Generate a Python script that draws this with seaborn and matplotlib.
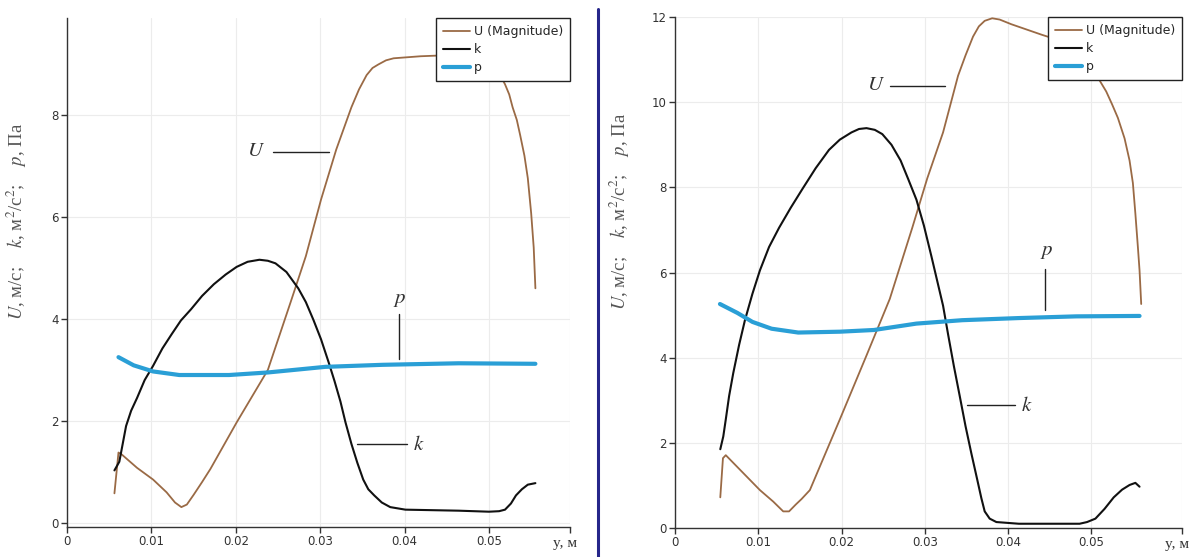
import matplotlib
matplotlib.use("Agg")
import matplotlib.pyplot as plt
from matplotlib.lines import Line2D
import seaborn as sns
import pandas as pd

# ---------------- data: left panel ----------------
uL_x = [0.00562, 0.0061, 0.0065, 0.0083, 0.0102, 0.0118, 0.0128, 0.01355, 0.0142, 0.0150,
        0.0160, 0.0170, 0.0201, 0.0238, 0.0265, 0.0283, 0.0301, 0.0319, 0.0337, 0.0346,
        0.0355, 0.0362, 0.0369, 0.0378, 0.0387, 0.0419, 0.0450, 0.0480, 0.0505, 0.0512,
        0.0519, 0.0524, 0.0528, 0.0533, 0.0537, 0.0542, 0.0546, 0.0550, 0.0553, 0.0555]
uL_y = [0.58, 1.38, 1.34, 1.08, 0.85, 0.60, 0.40, 0.31, 0.36, 0.55,
        0.80, 1.06, 1.97, 3.00, 4.33, 5.23, 6.34, 7.32, 8.15, 8.50,
        8.78, 8.92, 8.99, 9.07, 9.11, 9.15, 9.17, 9.12, 8.95, 8.82,
        8.60, 8.40, 8.15, 7.90, 7.60, 7.20, 6.76, 6.07, 5.40, 4.60]

kL_x = [0.00562, 0.0062, 0.0066, 0.0070, 0.0076, 0.0083, 0.0092, 0.0102, 0.0113, 0.0124,
        0.0135, 0.0147, 0.0160, 0.0174, 0.0188, 0.0201, 0.0214, 0.0228, 0.0238, 0.0247,
        0.0260, 0.0274, 0.0283, 0.0292, 0.0301, 0.0310, 0.0317, 0.0324, 0.0330, 0.0337,
        0.0344, 0.0351, 0.0357, 0.0364, 0.0373, 0.0383, 0.0401, 0.0464, 0.0500, 0.0512,
        0.0519, 0.0526, 0.0532, 0.0539, 0.0546, 0.0555]
kL_y = [1.03, 1.20, 1.55, 1.90, 2.20, 2.45, 2.80, 3.08, 3.42, 3.70,
        3.97, 4.19, 4.45, 4.68, 4.87, 5.02, 5.12, 5.16, 5.14, 5.09,
        4.92, 4.60, 4.33, 3.98, 3.60, 3.15, 2.78, 2.38, 1.97, 1.55,
        1.18, 0.85, 0.66, 0.54, 0.40, 0.31, 0.26, 0.24, 0.22, 0.23,
        0.26, 0.38, 0.54, 0.66, 0.75, 0.78]

pL_x = [0.0061, 0.0079, 0.0102, 0.0133, 0.0192, 0.0238, 0.0306, 0.0374, 0.0464, 0.0555]
pL_y = [3.25, 3.09, 2.97, 2.90, 2.90, 2.95, 3.06, 3.10, 3.13, 3.12]

# ---------------- data: right panel ----------------
uR_x = [0.00544, 0.00576, 0.0061, 0.0102, 0.0118, 0.0130, 0.0137, 0.0145, 0.0152, 0.0162,
        0.0198, 0.0230, 0.0258, 0.0285, 0.0303, 0.0322, 0.0340, 0.0349, 0.0358, 0.0365,
        0.0372, 0.0381, 0.0390, 0.0404, 0.0441, 0.0470, 0.0495, 0.0518, 0.0525, 0.0532,
        0.0540, 0.0546, 0.0550, 0.0553, 0.0556, 0.0558, 0.0560]
uR_y = [0.72, 1.64, 1.71, 0.89, 0.62, 0.39, 0.39, 0.55, 0.68, 0.89,
        2.55, 4.05, 5.38, 7.05, 8.21, 9.29, 10.62, 11.10, 11.54, 11.78,
        11.91, 11.97, 11.94, 11.83, 11.58, 11.40, 11.00, 10.25, 9.95, 9.63,
        9.15, 8.63, 8.10, 7.38, 6.60, 6.05, 5.26]

kR_x = [0.00544, 0.0058, 0.0061, 0.0065, 0.0070, 0.0077, 0.0084, 0.0093, 0.0102, 0.0113,
        0.0125, 0.0139, 0.0153, 0.0169, 0.0185, 0.0198, 0.0212, 0.0221, 0.0230, 0.0240,
        0.0249, 0.0260, 0.0271, 0.0280, 0.0290, 0.0299, 0.0308, 0.0315, 0.0322, 0.0328,
        0.0335, 0.0342, 0.0349, 0.0356, 0.0363, 0.0368, 0.0372, 0.0378, 0.0386, 0.0413,
        0.0486, 0.0495, 0.0505, 0.0516, 0.0527, 0.0537, 0.0546, 0.0553, 0.0558]
kR_y = [1.85, 2.15, 2.55, 3.10, 3.64, 4.30, 4.88, 5.50, 6.05, 6.60,
        7.05, 7.52, 7.96, 8.45, 8.88, 9.12, 9.29, 9.37, 9.39, 9.35,
        9.25, 9.00, 8.63, 8.20, 7.71, 7.10, 6.38, 5.80, 5.22, 4.55,
        3.80, 3.10, 2.39, 1.75, 1.14, 0.70, 0.39, 0.22, 0.14, 0.10,
        0.10, 0.14, 0.22, 0.45, 0.72, 0.90, 1.01, 1.06, 0.97]

pR_x = [0.0054, 0.0075, 0.0093, 0.0116, 0.0148, 0.0198, 0.0239, 0.0290, 0.0345, 0.0413, 0.0482, 0.0558]
pR_y = [5.26, 5.05, 4.84, 4.68, 4.59, 4.61, 4.65, 4.80, 4.88, 4.93, 4.97, 4.98]

x_ticks = [0, 0.01, 0.02, 0.03, 0.04, 0.05]
x_tick_labels = ["0", "0.01", "0.02", "0.03", "0.04", "0.05"]
yL_ticks = [0, 2, 4, 6, 8]
yR_ticks = [0, 2, 4, 6, 8, 10, 12]
legend_labels = ["U (Magnitude)", "k", "p"]

# annotation labels: (text, text_x, text_y, leader x0, y0, x1, y1)
annL = [("U", 0.0224, 7.32, 0.0244, 7.28, 0.0311, 7.28),
        ("p", 0.0394, 4.40, 0.0393, 4.09, 0.0393, 3.22),
        ("k", 0.0417, 1.55, 0.0344, 1.55, 0.0403, 1.55)]
annR = [("U", 0.0242, 10.42, 0.0258, 10.37, 0.0324, 10.37),
        ("p", 0.0447, 6.50, 0.0445, 6.09, 0.0445, 5.13),
        ("k", 0.0422, 2.89, 0.0351, 2.89, 0.0409, 2.89)]

C_U = "#9a6a45"
C_K = "#111111"
C_P = "#2a9fd6"

sns.set_theme(style="white")
plt.rcParams["font.family"] = ["DejaVu Sans"]
plt.rcParams["mathtext.fontset"] = "stix"

W, H = 1192, 557
fig = plt.figure(figsize=(W / 100, H / 100), dpi=100)


def make_axes(l, r, t, b):
    return fig.add_axes([l / W, (H - b) / H, (r - l) / W, (b - t) / H])


axL = make_axes(67, 570, 18, 527)
axR = make_axes(675, 1182, 17, 528)


def draw(ax, ux, uy, kx, ky, px, py, xmax, ylim, yticks, ann, lab_x, lab_y):
    sns.lineplot(data=pd.DataFrame({"x": ux, "y": uy}), x="x", y="y", ax=ax,
                 color=C_U, lw=1.3, sort=False, estimator=None)
    sns.lineplot(data=pd.DataFrame({"x": kx, "y": ky}), x="x", y="y", ax=ax,
                 color=C_K, lw=1.5, sort=False, estimator=None)
    sns.lineplot(data=pd.DataFrame({"x": px, "y": py}), x="x", y="y", ax=ax,
                 color=C_P, lw=3.0, sort=False, estimator=None)
    ax.set_xlim(0, xmax)
    ax.set_ylim(*ylim)
    ax.set_xticks(x_ticks + [xmax])
    ax.set_xticklabels(x_tick_labels + [""])
    ax.set_yticks(yticks)
    ax.set_yticklabels([str(v) for v in yticks])
    ax.grid(True, color="#ececec", lw=0.8)
    for s in ["top", "right"]:
        ax.spines[s].set_visible(False)
    for s in ["left", "bottom"]:
        ax.spines[s].set_color("#333333")
        ax.spines[s].set_linewidth(1.0)
    ax.tick_params(axis="both", which="major", direction="out", length=4, width=1,
                   color="#333333", labelsize=8.5, labelcolor="#333333", pad=2,
                   left=True, bottom=True)
    ax.set_xlabel("")
    ax.set_ylabel(r"$U$, м/с;    $k$, м$^2$/с$^2$;    $p$, Па", family="Liberation Serif",
                  fontsize=13.5, color="#555555")
    ax.yaxis.set_label_coords(lab_x, lab_y)
    ax.text(0.99, -0.032, "y, м", transform=ax.transAxes, family="Liberation Serif",
            fontsize=11, color="#333333", ha="center", va="center")
    for txt, tx, ty, x0, y0, x1, y1 in ann:
        ax.text(tx, ty, "$" + txt + "$", fontsize=15, color="#333333",
                ha="center", va="center")
        ax.plot([x0, x1], [y0, y1], color="#222222", lw=1.0)
    handles = [Line2D([], [], color=C_U, lw=1.3),
               Line2D([], [], color=C_K, lw=1.5),
               Line2D([], [], color=C_P, lw=3.0)]
    leg = ax.legend(handles, legend_labels, loc="upper right", frameon=True,
                    fancybox=False, edgecolor="#222222", fontsize=9,
                    borderaxespad=0.0, handlelength=2.2, handletextpad=0.3,
                    labelspacing=0.42, borderpad=0.55)
    leg.get_frame().set_linewidth(1.0)
    leg.get_frame().set_alpha(1.0)


draw(axL, uL_x, uL_y, kL_x, kL_y, pL_x, pL_y, 0.0596, (-0.08, 9.9), yL_ticks,
     annL, -0.075, 0.60)
draw(axR, uR_x, uR_y, kR_x, kR_y, pR_x, pR_y, 0.0609, (0, 12.0), yR_ticks,
     annR, -0.085, 0.62)

fig.add_artist(Line2D([598 / W, 598 / W], [0, (H - 9) / H], color="#26268a", lw=2.2))

fig.savefig("out.png", dpi=100, facecolor="white")
